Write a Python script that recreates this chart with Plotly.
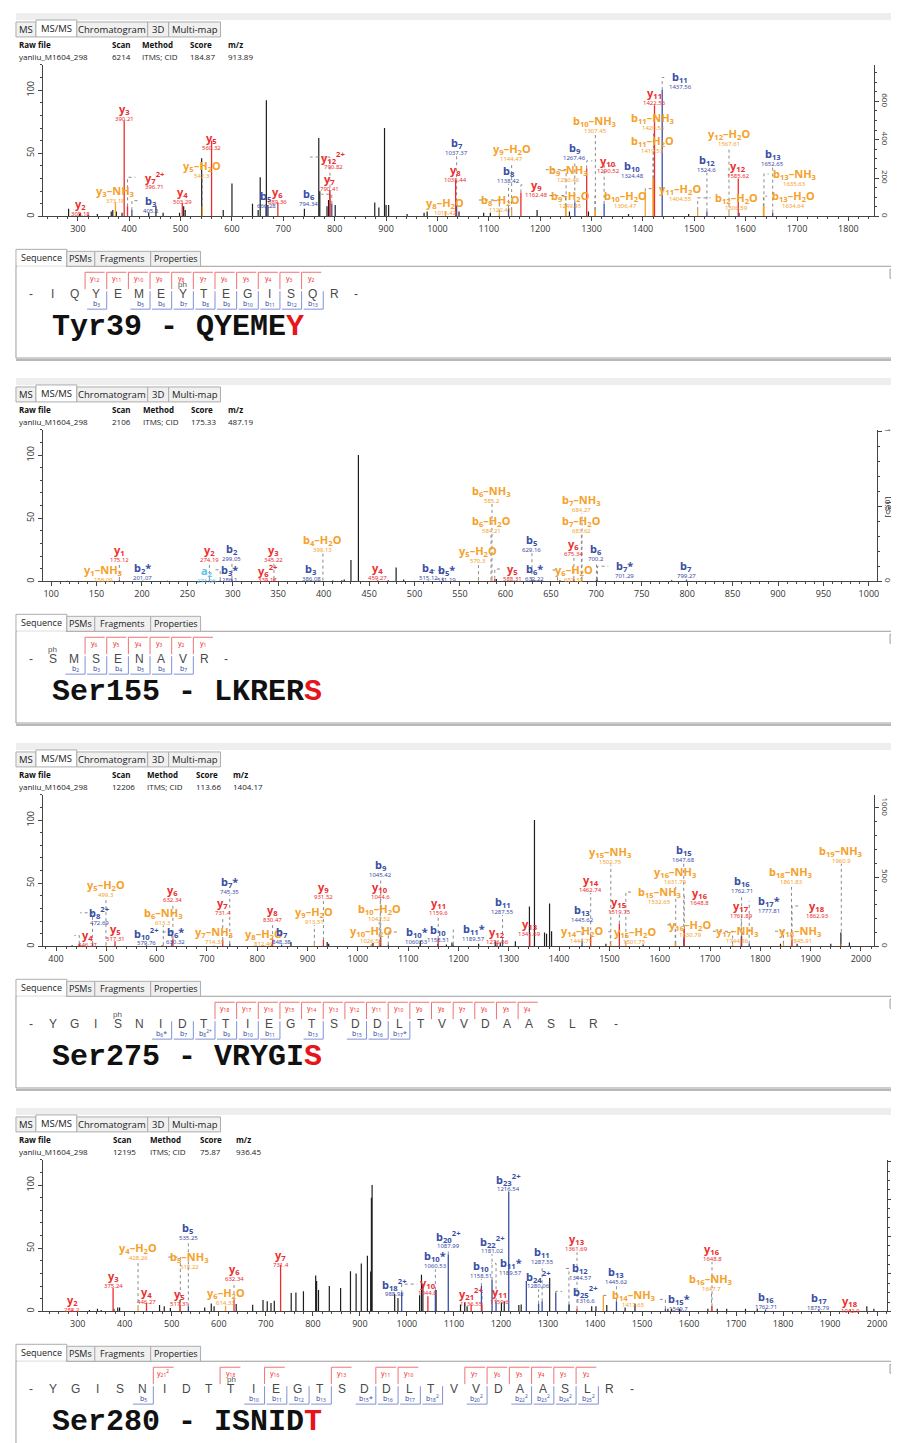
import plotly.graph_objects as go

# ---------------- data: Tyr39 (scan 6214) ----------------
p1_meta = ["yanliu_M1604_298", "6214", "ITMS; CID", "184.87", "913.89"]
p1_bg_mz = [282, 303, 320, 338, 365, 368, 375, 386, 438, 452, 466, 498, 506, 509, 541, 583, 600, 640, 651, 655,
            667, 670, 741, 769, 771, 785, 788, 801, 878, 886, 897, 900, 905, 941, 974, 980, 1042, 1090, 1103, 1194,
            1257, 1294, 1372, 1489, 1587]
p1_bg_int = [6, 2, 1.5, 2, 4, 5, 4, 3, 3, 8, 3, 3, 8, 5, 46, 5, 26, 10, 5, 31,
             92, 9, 6, 62, 20, 8, 13, 9, 11, 7, 70, 9, 9, 2, 3, 4, 4, 3, 3, 5,
             4, 4, 2, 2, 3]
p1_ion = ["y2", "y3-NH3", "y3", "y7^2+", "b3", "y4", "y5-H2O", "y5", "b5", "y6", "b6", "y7", "y12^2+", "y8-H2O",
          "y8", "b7", "b8-H2O", "b8", "y9-H2O", "y9", "b9-H2O", "b9-NH3", "b9", "y10", "b10-H2O", "b10-NH3", "b10",
          "y11-H2O", "b11-H2O", "b11-NH3", "y11", "b11", "b12-H2O", "b12", "y12-H2O", "y12", "b13-H2O", "b13-NH3",
          "b13"]
p1_ion_mz = [305.18, 373.18, 390.21, 396.71, 405.2, 503.29, 542.3, 560.32, 666.28, 689.36, 794.34, 790.41, 790.82,
             1015.42, 1035.44, 1037.37, 1120.41, 1138.42, 1144.47, 1162.48, 1249.45, 1250.46, 1267.46, 1290.52,
             1306.47, 1307.45, 1324.48, 1404.55, 1419.53, 1420.54, 1422.56, 1437.56, 1506.59, 1524.6, 1567.61,
             1585.62, 1634.64, 1635.63, 1652.65]
p1_ion_int = [3, 11, 76, 8, 5, 10.5, 8, 60, 8, 11, 10, 21, 18, 4, 29, 12, 3, 6, 5, 19, 8, 8, 11, 38, 5, 5, 10, 20,
              30, 30, 88, 100, 5, 4, 3, 30, 8, 8, 3]

# ---------------- data: Ser155 (scan 2106) ----------------
p2_meta = ["yanliu_M1604_298", "2106", "ITMS; CID", "175.33", "487.19"]
p2_bg_mz = [118, 228, 410, 420, 422.6, 430, 438.2, 471, 479.7, 488, 590, 660, 783]
p2_bg_int = [0.5, 0.5, 0.8, 1, 1.5, 17, 100, 1, 11, 1.5, 2, 1, 1]
p2_ion = ["y1-NH3", "y1", "b2*", "a2", "y2", "b3*", "b2", "y6^2+", "y3", "b3", "b4-H2O", "y4", "b4", "b5*",
          "y5-H2O", "b6-H2O", "b6-NH3", "y5", "b5", "b6*", "y6-H2O", "y6", "b7-H2O", "b7-NH3", "b6", "b7*", "b7"]
p2_ion_mz = [158.09, 175.12, 201.07, 271.06, 274.19, 286.1, 299.05, 338.17, 345.22, 386.08, 399.13, 459.27,
             515.12, 531.19, 570.3, 584.21, 585.2, 588.31, 629.16, 632.22, 657.33, 675.34, 683.62, 684.27, 700.2,
             701.29, 799.27]
p2_ion_int = [0.8, 1.2, 0.5, 0.8, 1.2, 1, 2, 1, 2, 0.8, 0.6, 1, 0.8, 0.8, 1, 1, 2, 2, 1, 1, 1, 2, 1, 1.5, 1.5,
              1, 1.6]

# ---------------- data: Ser275 (scan 12206) ----------------
p3_meta = ["yanliu_M1604_298", "12206", "ITMS; CID", "113.66", "1404.17"]
p3_bg_mz = [432, 611, 829, 867, 939, 942, 1030, 1124, 1176, 1187, 1240, 1273, 1283, 1313, 1341, 1351, 1371, 1375,
            1381, 1385, 1493, 1567, 1840, 1873, 1940, 1960, 1977]
p3_bg_int = [1, 1, 1.5, 3.4, 3.4, 2, 2.6, 4.7, 1.5, 3, 2, 4, 3, 4, 31.5, 100, 11, 10, 34, 12, 2, 1.5, 2, 2, 2, 11, 3]
p3_ion = ["y4", "b8^2+", "y5-H2O", "y5", "b10^2+", "b6-NH3", "b6*", "y6", "y7-NH3", "y7", "b7*", "y8-H2O", "y8",
          "b7", "y9-H2O", "y9", "y10-H2O", "b10-H2O", "y10", "b9", "b10*", "b10", "y11", "b11*", "y12", "b11", "y13",
          "y14-H2O", "b13", "y14", "y15-H2O", "y15-NH3", "y15", "b15-NH3", "y16-H2O", "y16-NH3", "b15", "y16",
          "y17-NH3", "y17", "b16", "b17*", "y18-NH3", "b18-NH3", "y18", "b19-NH3"]
p3_ion_mz = [446.27, 472.69, 499.3, 517.31, 579.76, 613.3, 630.32, 632.34, 714.33, 731.4, 745.35, 812.46, 830.47,
             848.38, 913.51, 931.52, 1026.53, 1042.52, 1044.6, 1045.42, 1060.53, 1158.51, 1159.6, 1189.57, 1276.66,
             1287.55, 1341.69, 1444.75, 1445.62, 1462.74, 1501.75, 1502.75, 1519.75, 1532.65, 1630.79, 1631.79,
             1647.68, 1648.8, 1744.86, 1761.89, 1762.71, 1777.81, 1845.91, 1861.83, 1862.93, 1960.9]
p3_ion_int = [2, 2, 1, 4, 1, 1, 2, 6, 1, 5, 2, 1, 5, 1.5, 2, 5, 2, 3, 5, 7, 1.5, 2, 6, 1.5, 3, 5, 10, 1, 4, 8,
              1.5, 2, 18, 2, 2, 2, 6, 14, 1.5, 6, 8, 2, 2, 2, 6, 2]

# ---------------- data: Ser280 (scan 12195) ----------------
p4_meta = ["yanliu_M1604_298", "12195", "ITMS; CID", "75.87", "936.45"]
p4_bg_mz = [325, 342, 350, 377, 385, 389, 474, 484, 497, 570, 584, 590, 637, 672, 694, 703, 711, 718, 754, 764,
            780, 806, 808, 812, 835, 859, 880, 892, 903, 916, 923, 924.5, 926, 974, 981, 1027, 1031, 1034, 1062,
            1114, 1123, 1128, 1201, 1207, 1238, 1243, 1303.6, 1345, 1393, 1402, 1425, 1464, 1485, 1555, 1563, 1580,
            1640, 1660, 1680, 1720, 1745, 1978, 1993]
p4_bg_int = [1, 2, 1, 2, 3, 3, 5, 4, 2.6, 3, 6.3, 4, 5.8, 5.3, 9, 8, 6.6, 8.5, 14.5, 15,
             16, 28.5, 24, 17, 20, 18.5, 31.7, 30, 38, 44, 31.6, 90, 100, 13.7, 10.5, 12.7, 29, 21.6, 17,
             5.5, 7, 4, 7, 8, 5, 5.5, 26.5, 5.5, 4, 4, 5, 3, 6, 2, 2, 2,
             2, 2, 2, 2, 2, 4, 2]
p4_blue_mz = [1254]
p4_blue_int = [24]
p4_ion = ["y2", "y3", "y4-H2O", "y4", "y5", "b5-NH3", "b5", "y6-H2O", "y6", "y7", "b18^2+", "y10", "b10*",
          "b20^2+", "y21^2+", "b10", "y11", "b22^2+", "b11*", "b23^2+", "b24^2+", "b11", "b25^2+", "b12", "y13",
          "b14-NH3", "b13", "b15*", "b16-NH3", "y16", "b16", "b17", "y18"]
p4_ion_mz = [288.2, 375.24, 428.26, 446.27, 517.31, 518.22, 535.25, 614.33, 632.34, 731.4, 988.92, 1044.6,
             1060.53, 1087.99, 1136.55, 1158.51, 1159.6, 1181.02, 1189.57, 1216.54, 1280.06, 1287.55, 1316.6,
             1344.57, 1361.69, 1417.65, 1445.62, 1549.7, 1647.7, 1648.8, 1762.71, 1875.79, 1942.9]
p4_ion_int = [1, 18.5, 2.6, 6.6, 9, 2.6, 4, 4.5, 9, 37, 14.5, 12, 17, 45, 5.5, 20, 5, 25, 8, 95, 6, 8, 15, 5.5, 2,
              12.6, 8, 2, 2, 4, 1.5, 1.5, 1.5]

# ---------------- sequences ----------------
seq_peptides = ["IQYEMEYTEGISQR", "SMSENAVR", "YGISNIDTTIEGTSDDLTVVDAASLR", "YGISNIDTTIEGTSDDLTVVDAASLR"]
seq_y = [["12", "11", "10", "9", "8", "7", "6", "5", "4", "3", "2"],
         ["6", "5", "4", "3", "2", "1"],
         ["18", "17", "16", "15", "14", "13", "12", "11", "10", "9", "8", "7", "6", "5", "4"],
         ["21^2", "18", "16", "13", "11", "10", "7", "6", "5", "4", "3", "2"]]
seq_b = [["3", "5", "6", "7", "8", "9", "10", "11", "12", "13"],
         ["2", "3", "4", "5", "6", "7"],
         ["6*", "7", "8^2+", "9", "10", "11", "13", "15", "16", "17*"],
         ["5", "10", "11", "12", "13", "15*", "16", "17", "18^2", "20^2", "22^2", "23^2", "24^2", "25^2"]]
seq_phospho = [7, 1, 4, 9]
site_names = ["Tyr39", "Ser155", "Ser275", "Ser280"]
site_motifs = ["QYEMEY", "LKRERS", "VRYGIS", "ISNIDT"]

# ---------------- label placement (layout, in % of base peak / m/z) ----------------
N = None
p1_lab_y = [10, 20, 85, 31, 12.5, 19, 40, 62, 16, 19, 17.6, 30, 47, 10.5, 37, 58.5, 13, 36, 53, 25, 16.5, 37, 54,
            44, 16, 75.6, 40, 22, 60, 77.7, 98, 110, 14.7, 45, 65, 40, 16, 33.6, 49.6]
p1_lab_x = [N, N, N, 450, 443, N, N, N, N, N, 749, N, 797, N, N, N, 1122, N, N, 1192, 1259, 1256, N, 1333, 1366, N,
            1379, 1473, N, N, N, 1473, 1583, N, N, N, 1693, 1696, N]
p2_lab_y = [8.7, 25, 10.5, 8, 25, 9.2, 25.5, 8.7, 25, 9.7, 33, 10.5, 10.5, 8.7, 24, 48, 71.7, 9.8, 33, 9.8, 9, 29.4,
            48, 64.5, 25.7, 12, 12]
p2_lab_x = [N, N, N, N, N, 296, N, N, N, N, N, N, N, 535, N, N, N, 608, N, N, 675, N, N, N, N, 731, N]
p3_lab_y = [8.7, 26.6, 48.5, 14, 10.6, 26.8, 11.4, 44.6, 11.4, 34, 51, 10, 28.6, 11.4, 27.3, 46.7, 12, 29.4, 47,
            64.7, 11.4, 13, 34, 13.7, 11.6, 35, 17.7, 12, 28.6, 52.6, 11.6, 75, 35.4, 43, 17, 59, 76, 42, 12, 32,
            51.5, 35.7, 12, 59, 32, 75.7]
p3_lab_x = [462, 487, N, N, N, N, 638, N, N, N, N, N, N, N, N, N, N, N, N, N, 1117, N, N, 1230, N, N, N, N, N, N,
            1550, N, N, 1600, 1661, N, N, 1680, 1755, N, N, 1817, 1880, N, 1913, N]
p4_lab_y = [9.3, 27.7, 50, 15, 14, 43, 66, 14.5, 33.5, 45, 21.6, 22.4, 43.5, 59.5, 14, 35.7, 15, 55.6, 38, 104.5,
            27.8, 47, 15.9, 34, 57, 12.7, 31, 9.5, 25.6, 49.5, 11.4, 10.6, 8]
p4_lab_x = [N, N, N, N, N, 537, N, N, N, N, 973, N, N, N, N, N, 1196, N, 1221, N, N, N, 1379, 1369, N, 1482, N,
            1578, N, N, N, N, N]

# ---------------- page geometry ----------------
W, H = 899, 1443
OFFS = [0, 366, 732, 1098]
RIGHT = [868, 871, 868, 881]
XR = [[232, 1850], [91, 1009], [374, 2026], [226, 2021]]
XD = [100, 50, 100, 100]
XM = [20, 10, 20, 20]
RR = [[0, 790], [0, 1.013], [0, 1094], [0, 4.05]]
RD = [200, 0.5, 500, 1]
RM = [50, 0.1, 100, 0.25]
HEADER_X = [[9, 102, 132, 180, 218], [9, 102, 133, 181, 218], [9, 102, 137, 186, 223], [9, 103, 140, 190, 227]]
SEQ_STEP = [21.7, 21.7, 21.7, 22.3]

RED, BLUE, ORANGE, CYAN, INK = "#ec2d2d", "#3b4ea6", "#f6a12b", "#5cc3ea", "#1e1e1e"
SEQ_RED, SEQ_BLUE = "#f27272", "#8191d8"
UI_FONT, LBL_FONT, SEQ_FONT, MONO = "Open Sans", "Noto Sans", "Liberation Sans", "Liberation Mono"

shapes, anns, traces = [], [], []


def rect(x0, y0, x1, y1, fill, line="#a9a9a9", lw=1):
    shapes.append(dict(type="rect", xref="paper", yref="paper", x0=x0 / W, x1=x1 / W, y0=1 - y1 / H,
                       y1=1 - y0 / H, fillcolor=fill, line=dict(color=line, width=lw), layer="below"))


def seg(x0, y0, x1, y1, color, lw=1):
    shapes.append(dict(type="line", xref="paper", yref="paper", x0=x0 / W, x1=x1 / W, y0=1 - y0 / H,
                       y1=1 - y1 / H, line=dict(color=color, width=lw)))


def text(x, y, s, size, color="#222", anchor="left", family=UI_FONT):
    anns.append(dict(x=x / W, y=1 - y / H, xref="paper", yref="paper", text=s, showarrow=False, xanchor=anchor,
                     yanchor="middle", font=dict(size=size, color=color, family=family)))


def sub_label(letter, s):
    core = s.split("^")[0]
    num = "".join(c for c in core if c.isdigit())
    out = f"{letter}<sub>{num}</sub>"
    if "^" in s:
        out += f"<sup>{s.split('^')[1]}</sup>"
    return out + core[len(num):]


LOSS = {"H2O": "H<sub>2</sub>O", "NH3": "NH<sub>3</sub>"}


def ion_html(name):
    core, _, loss = name.partition("-")
    html = sub_label(core[0], core[1:])
    if loss:
        html += "–" + LOSS[loss]
    return "<b>" + html + "</b>"


def ion_color(name):
    if "-" in name:
        return ORANGE
    return {"y": RED, "b": BLUE, "a": CYAN}[name[0]]


def sticks(mz, inten):
    xs, ys = [], []
    for m, i in zip(mz, inten):
        xs += [m, m, None]
        ys += [0, i, None]
    return xs, ys


def add_spectrum(k, bg_mz, bg_int, ions, ion_mz, ion_int, lab_y, lab_x):
    xa, ya = f"x{k + 1}", f"y{k + 1}"
    xsc = (RIGHT[k] - 35) / (XR[k][1] - XR[k][0])
    ysc = 152 / 120
    # background peaks
    xs, ys = sticks(bg_mz, bg_int)
    traces.append(go.Scatter(x=xs, y=ys, mode="lines", line=dict(color=INK, width=1.2), xaxis=xa, yaxis=ya,
                             hoverinfo="skip"))
    # dotted leaders from peak top to its label
    lx_all, ly_all = [], []
    for n, m, i, ly, lx in zip(ions, ion_mz, ion_int, lab_y, lab_x):
        if lx is None:
            top = ly - 13 / ysc
            if top > i + 1:
                lx_all += [m, m, None]
                ly_all += [i, top, None]
        else:
            plain = n.replace("^", "").replace("-", "")
            hw = (6 + 3.4 * len(plain)) / xsc
            end = lx - hw if lx > m else lx + hw
            lx_all += [m, m, end, None]
            ly_all += [i, ly, ly, None]
    traces.append(go.Scatter(x=lx_all, y=ly_all, mode="lines", line=dict(color="#8a8a8a", width=1, dash="dot"),
                             xaxis=xa, yaxis=ya, hoverinfo="skip"))
    # annotated peaks by colour
    for col in [ORANGE, CYAN, BLUE, RED]:
        sel = [(m, i) for n, m, i in zip(ions, ion_mz, ion_int) if ion_color(n) == col]
        if not sel:
            continue
        xs, ys = sticks([s[0] for s in sel], [s[1] for s in sel])
        traces.append(go.Scatter(x=xs, y=ys, mode="lines", line=dict(color=col, width=1.3), xaxis=xa, yaxis=ya,
                                 hoverinfo="skip"))
    # labels
    for n, m, ly, lx in zip(ions, ion_mz, lab_y, lab_x):
        col = ion_color(n)
        x = m if lx is None else lx
        anns.append(dict(x=x, y=ly, xref=xa, yref=ya, text=ion_html(n), showarrow=False, xanchor="center",
                         yanchor="middle", font=dict(size=11, color=col, family=LBL_FONT)))
        anns.append(dict(x=x, y=ly, xref=xa, yref=ya, text=f"{m:g}", showarrow=False, xanchor="center",
                         yanchor="middle", yshift=-10, font=dict(size=6, color=col, family=LBL_FONT)))
    # dummy trace so that the right-hand intensity axis is drawn
    traces.append(go.Scatter(x=[XR[k][0]], y=[0], xaxis=xa, yaxis=f"y{k + 5}", mode="markers",
                             marker=dict(opacity=0), hoverinfo="skip"))


def add_chrome(k, meta):
    o = OFFS[k]
    rect(8, 3 + o, 897, 10 + o, "#eeeeee", "#eeeeee", 0)
    edges = [8, 28, 69, 140, 161, 213]
    for j, lab in enumerate(["MS", "MS/MS", "Chromatogram", "3D", "Multi-map"]):
        top = 10 if j == 1 else 12
        rect(edges[j], top + o, edges[j + 1], 27 + o, "#ffffff" if j == 1 else "#f0f0f0", "#adadad")
        text((edges[j] + edges[j + 1]) / 2, (top + 27) / 2 + o, lab, 9.5, "#222", "center")
    hx = HEADER_X[k]
    for j, lab in enumerate(["Raw file", "Scan", "Method", "Score", "m/z"]):
        text(hx[j], 35 + o, "<b>" + lab + "</b>", 8, "#111")
        text(hx[j], 47 + o, meta[j], 8, "#222")
    # sequence box
    rect(8, 257 + o, 897, 349 + o, "#ffffff", "#9d9d9d")
    seg(8, 351 + o, 897, 351 + o, "#b8b8b8", 2)
    rect(884, 260 + o, 893, 269 + o, "#ffffff", "#9a9a9a")
    sedges = [8, 59, 87, 143, 193]
    for j, lab in enumerate(["Sequence", "PSMs", "Fragments", "Properties"]):
        top = 240 if j == 0 else 242
        rect(sedges[j], top + o, sedges[j + 1], 257 + o, "#ffffff" if j == 0 else "#f0f0f0", "#adadad")
        text((sedges[j] + sedges[j + 1]) / 2, (top + 257) / 2 + o, lab, 9, "#222", "center")
    seg(9, 257 + o, 58, 257 + o, "#ffffff", 1)


def add_sequence(k):
    o = OFFS[k]
    step = SEQ_STEP[k]
    pep = seq_peptides[k]
    L = len(pep)
    chars = ["-"] + list(pep) + ["-"]
    for j, ch in enumerate(chars):
        text(23 + step * j, 285 + o, ch, 12, "#4a4a4a", "center", SEQ_FONT)

    def cut(i):
        return 23 + step * (i + 0.5)

    for s in seq_y[k]:
        n = int("".join(c for c in s.split("^")[0] if c.isdigit()))
        c = cut(L - n)
        seg(c, 263 + o, c, 280 + o, SEQ_RED)
        seg(c, 263 + o, c + step - 2, 263 + o, SEQ_RED)
        text(c + (step - 2) / 2, 269 + o, sub_label("y", s), 7, RED, "center", LBL_FONT)
    for s in seq_b[k]:
        n = int("".join(c for c in s.split("^")[0] if c.isdigit()))
        c = cut(n)
        seg(c, 282 + o, c, 300 + o, SEQ_BLUE)
        seg(c - step + 2, 300 + o, c, 300 + o, SEQ_BLUE)
        text(c - (step - 2) / 2, 294 + o, sub_label("b", s), 7, BLUE, "center", LBL_FONT)
    text(23 + step * seq_phospho[k], 275 + o, "ph", 8, "#555", "center", SEQ_FONT)
    motif = site_motifs[k]
    big = f"<b>{site_names[k]} - {motif[:-1]}<span style='color:#e8141b'>{motif[-1]}</span></b>"
    text(42, 318 + o, big, 30, "#111", "left", MONO)


spectra = [
    (p1_meta, p1_bg_mz, p1_bg_int, p1_ion, p1_ion_mz, p1_ion_int, p1_lab_y, p1_lab_x),
    (p2_meta, p2_bg_mz, p2_bg_int, p2_ion, p2_ion_mz, p2_ion_int, p2_lab_y, p2_lab_x),
    (p3_meta, p3_bg_mz, p3_bg_int, p3_ion, p3_ion_mz, p3_ion_int, p3_lab_y, p3_lab_x),
    (p4_meta, p4_bg_mz, p4_bg_int, p4_ion, p4_ion_mz, p4_ion_int, p4_lab_y, p4_lab_x),
]

layout = dict(width=W, height=H, margin=dict(l=0, r=0, t=0, b=0), paper_bgcolor="white",
              plot_bgcolor="rgba(0,0,0,0)", showlegend=False, hovermode=False)

for k, (meta, bmz, bint, ions, imz, iint, ly, lx) in enumerate(spectra):
    add_chrome(k, meta)
    add_spectrum(k, bmz, bint, ions, imz, iint, ly, lx)
    if k == 3:
        xs, ys = sticks(p4_blue_mz, p4_blue_int)
        traces.append(go.Scatter(x=xs, y=ys, mode="lines", line=dict(color=BLUE, width=1.3), xaxis="x4",
                                 yaxis="y4", hoverinfo="skip"))
    add_sequence(k)
    o = OFFS[k]
    ydom = [1 - (207 + o) / H, 1 - (55 + o) / H]
    common = dict(showline=True, linecolor="#444", linewidth=1, ticks="outside", ticklen=4, tickcolor="#444",
                  showgrid=False, zeroline=False, fixedrange=True,
                  tickfont=dict(size=9, color="#333", family=UI_FONT))
    layout[f"xaxis{k + 1}"] = dict(common, domain=[35 / W, RIGHT[k] / W], range=XR[k], anchor=f"y{k + 1}",
                                   tick0=0, dtick=XD[k],
                                   minor=dict(ticks="outside", ticklen=2, dtick=XM[k], tickcolor="#444"))
    layout[f"yaxis{k + 1}"] = dict(common, domain=ydom, range=[0, 120], anchor=f"x{k + 1}", tickvals=[0, 50, 100],
                                   tickangle=-90, minor=dict(ticks="outside", ticklen=2, dtick=10,
                                                             tickcolor="#444"))
    right = dict(common, overlaying=f"y{k + 1}", side="right", anchor=f"x{k + 1}", range=RR[k],
                 tick0=0, dtick=RD[k], tickangle=90,
                 minor=dict(ticks="outside", ticklen=2, dtick=RM[k], tickcolor="#444"))
    if k == 3:
        right.update(ticklen=3, tickfont=dict(size=5, color="#c98a74", family=UI_FONT))
    else:
        right.update(tickfont=dict(size=8, color="#333", family=UI_FONT))
    layout[f"yaxis{k + 5}"] = right

# intensity unit of the Ser155 spectrum
text(883, 498, "[1e5]", 9, "#333", "center")
anns[-1]["textangle"] = 90

layout["shapes"] = shapes
layout["annotations"] = anns
fig = go.Figure(data=traces, layout=layout)
fig.write_html("out.html")
